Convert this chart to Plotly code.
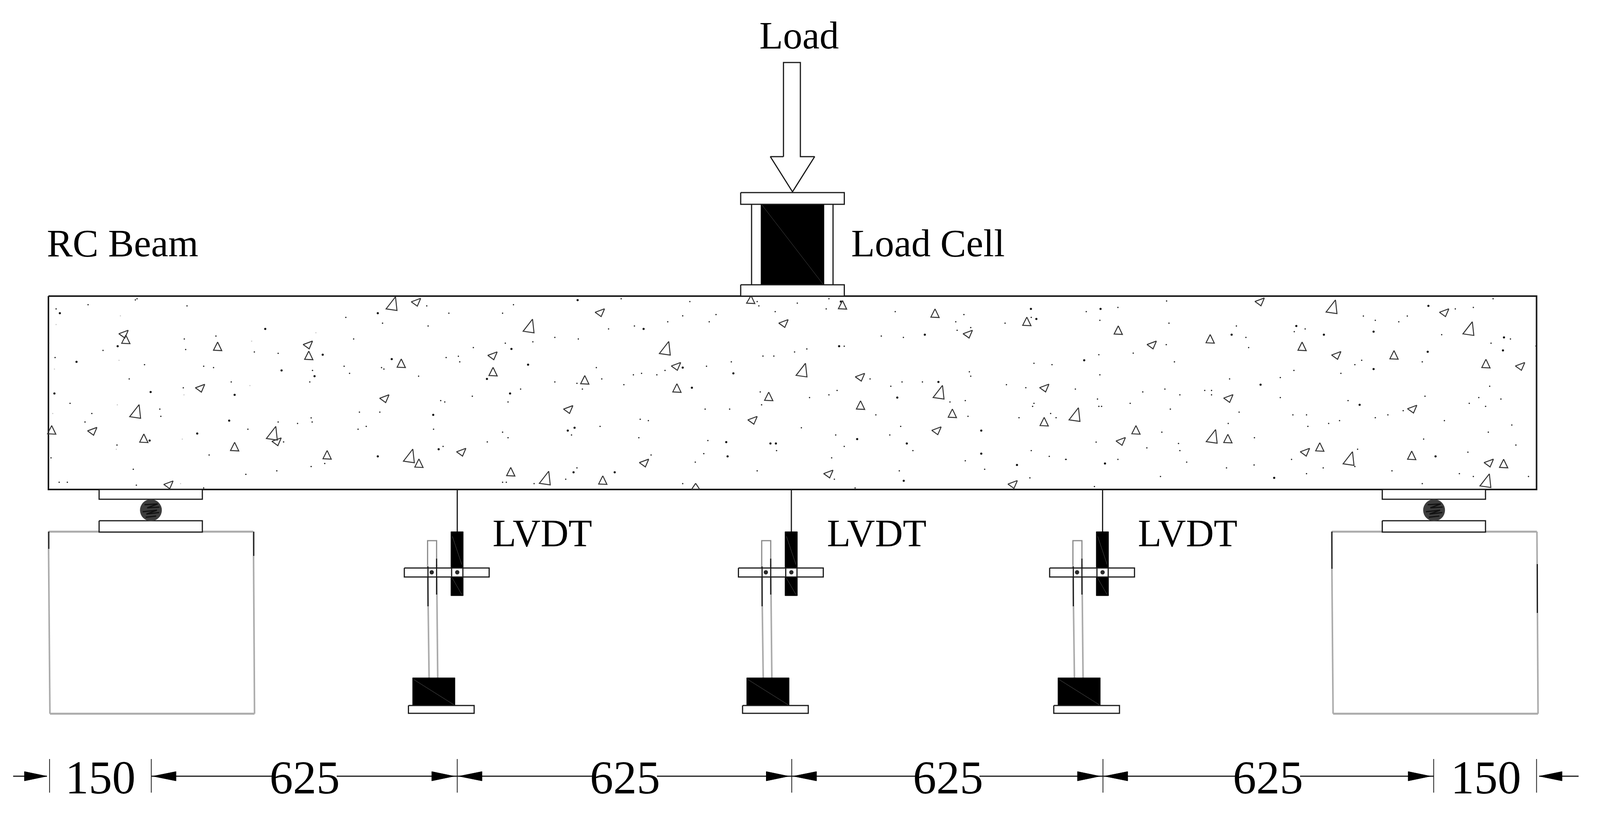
# RC beam test setup sketch
import numpy as np
import plotly.graph_objects as go

# Drawing units are picture pixels, y runs downwards
beam_x = [129, 4093]
beam_y = [758, 1253]

lvdt_shift = [0, 890, 1719]
support_shift = [0, 3418]
dim_ticks = [132, 403, 1218, 2109, 2938, 3819, 4093]
dim_labels = ["150", "625", "625", "625", "625", "150"]
dim_label_x = [267, 812, 1665, 2525, 3378, 3958]
dim_gaps = [0, 85, 85, 84, 85, 0]

text_labels = ["Load", "RC Beam", "Load Cell", "LVDT", "LVDT", "LVDT"]
text_x = [2128, 327, 2472, 1445, 2335, 3164]
text_y = [90, 622, 622, 1364, 1364, 1364]

# Aggregate and sand marks were read from three crops of the beam,
# so each list is in the units of its crop
crop_x0 = [0, 1420, 2840]
crop_sx = [1.104, 1.104, 1.1027]
crop_sy = 2.24
crop_y0 = 700

big_tri = [
    [(1152, 172), (1555, 300), (398, 790), (800, 915), (1203, 1045)],
    [(388, 428), (790, 553), (1193, 680), (35, 1172)],
    [(780, 190), (1182, 315), (25, 808), (428, 933), (830, 1060), (1232, 1187)],
]
left_tri = [
    [(1225, 165), (365, 348), (907, 410), (1450, 472), (590, 658), (1132, 718),
     (273, 905), (815, 965), (1358, 1025), (497, 1212)],
    [(198, 225), (738, 287), (1280, 348), (422, 533), (963, 595), (1505, 657),
     (105, 780), (647, 842), (1188, 902), (328, 1087), (870, 1150), (1412, 1210)],
    [(570, 163), (1112, 225), (253, 410), (795, 470), (1335, 533), (478, 717),
     (1018, 778), (162, 963), (703, 1025), (1243, 1087)],
]
small_tri = [
    [(370, 378), (640, 418), (908, 470), (1180, 515), (1450, 563), (152, 897),
     (423, 945), (690, 993), (962, 1040), (1232, 1088), (1502, 1137)],
    [(910, 180), (1182, 228), (1452, 275), (152, 610), (423, 657), (693, 705),
     (963, 755), (1233, 802), (1503, 850), (205, 1185), (640, 148), (478, 1228)],
    [(153, 325), (423, 375), (693, 418), (963, 467), (1233, 517), (205, 897),
     (475, 947), (745, 995), (1015, 1043), (1285, 1090)],
]

big_dots = [
    [(176, 228), (780, 318), (346, 417), (225, 507), (160, 688), (443, 680), (690, 696),
     (674, 844), (580, 918), (440, 958), (1111, 228), (1504, 433), (949, 466), (1152, 491),
     (1553, 523), (828, 556), (925, 589), (1432, 605), (1500, 688), (1274, 811), (1290, 1008),
     (1111, 1049)],
    [(131, 153), (905, 161), (325, 318), (1464, 203), (1480, 261), (1152, 351), (900, 417),
     (440, 540), (589, 573), (467, 655), (1192, 622), (1071, 712), (122, 885), (102, 901),
     (1318, 901), (953, 950), (568, 967), (698, 975), (714, 975), (1099, 975), (1318, 1033),
     (572, 1049), (1423, 1098), (119, 1140), (240, 1140), (1090, 1189)],
    [(101, 203), (486, 351), (53, 498), (114, 1090), (571, 638), (676, 301), (757, 351),
     (903, 334), (1064, 186), (1286, 367), (1283, 441), (1062, 449), (903, 548), (862, 753),
     (1085, 1049), (611, 1172)],
]
small_dots = [
    [(398, 152), (403, 145), (259, 179), (165, 203), (550, 186), (542, 376), (635, 359),
     (143, 400), (303, 441), (546, 436), (748, 450), (818, 458), (162, 482), (425, 523),
     (599, 532), (628, 540), (380, 605), (680, 622), (539, 656), (206, 745), (470, 778),
     (473, 819), (270, 803), (250, 852), (818, 852), (875, 860), (915, 828), (918, 852),
     (729, 893), (834, 966), (344, 984), (150, 1057), (615, 1041), (392, 1123), (814, 1132),
     (915, 1107), (955, 1090), (723, 1152), (174, 1197), (198, 1197), (401, 1214), (599, 1230),
     (1255, 186), (1510, 179), (1320, 228), (1478, 228), (1017, 252), (1125, 285), (1259, 301),
     (1040, 376), (1486, 400), (1392, 425), (1567, 392), (1312, 482), (1348, 475), (1352, 507),
     (1012, 532), (1122, 540), (1129, 548), (919, 556), (911, 622), (1028, 573), (1231, 589),
     (1531, 663), (1389, 704), (1296, 729), (1308, 737), (1494, 737), (1057, 795), (1117, 795),
     (1053, 893), (1077, 877), (1275, 893), (1478, 910), (1494, 942), (1433, 966), (1303, 992),
     (1478, 1197), (1489, 1197)],
    [(259, 145), (461, 161), (659, 161), (664, 186), (777, 170), (870, 145), (862, 203),
     (712, 219), (538, 236), (440, 243), (396, 277), (518, 277), (298, 301), (222, 318),
     (64, 367), (133, 376), (1065, 219), (1267, 236), (1243, 277), (1388, 285), (1465, 252),
     (1287, 310), (1247, 326), (1024, 359), (1089, 367), (915, 417), (805, 433), (769, 450),
     (676, 474), (708, 474), (583, 507), (510, 532), (186, 540), (388, 556), (319, 573),
     (295, 581), (364, 581), (1473, 515), (1526, 523), (1283, 564), (1287, 589), (991, 605),
     (202, 605), (64, 622), (129, 630), (267, 638), (145, 663), (1085, 622), (1145, 622),
     (1052, 647), (1392, 638), (1449, 655), (668, 679), (894, 671), (870, 696), (813, 712),
     (1226, 737), (1271, 729), (1473, 745), (1469, 762), (672, 753), (506, 778), (578, 778),
     (1008, 811), (1279, 819), (1522, 803), (1538, 827), (1429, 827), (315, 836), (339, 844),
     (197, 877), (113, 926), (789, 885), (1081, 877), (890, 926), (1049, 926), (311, 942),
     (514, 958), (915, 992), (716, 1016), (1117, 1016), (1465, 1016), (502, 1033), (347, 1041),
     (1518, 1049), (1566, 1066), (878, 1057), (477, 1082), (1271, 1074), (129, 1115),
     (659, 1132), (1077, 1132), (1328, 1123), (1461, 1172), (96, 1180), (886, 1180),
     (440, 1205), (3, 1205), (947, 1230)],
    [(295, 158), (152, 195), (59, 219), (99, 269), (302, 285), (500, 301), (528, 367),
     (536, 425), (294, 408), (197, 457), (96, 466), (318, 507), (99, 581), (480, 605),
     (27, 663), (225, 679), (290, 663), (334, 696), (407, 671), (427, 671), (427, 696),
     (92, 720), (188, 745), (96, 762), (104, 762), (306, 778), (508, 795), (476, 860),
     (281, 910), (88, 967), (330, 975), (237, 1000), (334, 1016), (152, 1066), (0, 1066),
     (354, 1082), (471, 1115), (552, 1098), (553, 942), (277, 1164), (83, 1222), (629, 597),
     (669, 556), (629, 712), (666, 811), (706, 811), (710, 877), (771, 860), (803, 844),
     (702, 318), (670, 334), (873, 244), (908, 269), (977, 277), (1002, 244), (1143, 203),
     (1196, 195), (1254, 145), (1103, 351), (1305, 376), (1248, 400), (1380, 416), (1046, 507),
     (868, 498), (848, 523), (807, 573), (1244, 647), (1054, 704), (1212, 712), (1277, 720),
     (1184, 745), (1232, 762), (828, 729), (990, 787), (945, 811), (908, 827), (1111, 844),
     (1309, 869), (1240, 910), (1050, 950), (1321, 984), (1180, 1025), (856, 1008), (662, 1066),
     (848, 1107), (755, 1115), (706, 1148), (957, 1132), (1155, 1148), (1196, 1164),
     (1358, 1164), (1046, 1205)],
]
faint_dots = [
    [(354, 243), (165, 293), (929, 340), (740, 388), (350, 498), (160, 548), (735, 643),
     (541, 696), (345, 753), (155, 803), (536, 950), (342, 1008), (531, 1205)],
    [],
    [],
]

# triangle outlines around their centre
big_shape = [(10, -17), (-15, 14), (14, 18)]
left_shape = [(11, -10), (-14, -1), (2, 10)]
small_shape = [(0, -11), (-11, 10), (11, 11)]

INK = "#1a1a1a"
GREY = "#ababab"


def to_pic(points, crop):
    x = [crop_x0[crop] + p[0] / crop_sx[crop] for p in points]
    y = [crop_y0 + p[1] / crop_sy for p in points]
    return x, y


def add_line(fig, x, y, color=INK, width=3):
    fig.add_trace(go.Scatter(x=x, y=y, mode="lines", line=dict(color=color, width=width),
                             hoverinfo="skip"))


def add_box(fig, x0, x1, y0, y1, fill="white", color=INK, width=3):
    fig.add_trace(go.Scatter(x=[x0, x1, x1, x0, x0], y=[y0, y0, y1, y1, y0], mode="lines",
                             fill="toself", fillcolor=fill,
                             line=dict(color=color, width=width), hoverinfo="skip"))


def add_dots(fig, lists, size, color):
    for crop, points in enumerate(lists):
        x, y = to_pic(points, crop)
        fig.add_trace(go.Scatter(x=x, y=y, mode="markers", hoverinfo="skip",
                                 marker=dict(size=size, color=color, line=dict(width=0))))


def add_triangles(fig, lists, shape):
    xs, ys = [], []
    for crop, points in enumerate(lists):
        x, y = to_pic(points, crop)
        for cx, cy in zip(x, y):
            xs += [cx + s[0] for s in shape] + [cx + shape[0][0], None]
            ys += [min(max(cy + s[1], beam_y[0]), beam_y[1]) for s in shape] + [cy + shape[0][1], None]
    add_line(fig, xs, ys, color="#333333", width=2.5)


def add_support(fig, dx, left, right, left_black, right_black):
    # concrete block, mostly grey scan with black stretches on the sides
    add_line(fig, [left, right], [1361, 1361], GREY, 5)
    add_line(fig, [left + 4, right + 3], [1827, 1827], GREY, 5)
    add_line(fig, [left, left + 4], [1361, 1827], GREY, 4)
    add_line(fig, [right, right + 3], [1361, 1827], GREY, 4)
    add_line(fig, [left + 1, left + 1], left_black, INK, 3)
    add_line(fig, [right + 1, right + 1], right_black, INK, 3)
    # plates and roller
    add_box(fig, 264 + dx, 539 + dx, 1253, 1278)
    add_box(fig, 264 + dx, 539 + dx, 1333, 1362)
    fig.add_trace(go.Scatter(x=[402 + dx], y=[1306], mode="markers", hoverinfo="skip",
                             marker=dict(size=56, color="#3d3d3d", line=dict(width=0))))
    add_line(fig, [385 + dx, 420 + dx, 392 + dx, 425 + dx], [1292, 1290, 1300, 1298], "#111111", 3)
    add_line(fig, [380 + dx, 418 + dx, 390 + dx, 424 + dx], [1310, 1306, 1316, 1312], "#111111", 3)
    add_line(fig, [388 + dx, 416 + dx], [1324, 1321], "#111111", 3)


def add_lvdt(fig, dx):
    # stand post
    add_line(fig, [1139 + dx, 1139 + dx, 1163 + dx, 1163 + dx], [1445, 1384, 1384, 1445], "#8a8a8a", 3)
    add_line(fig, [1139 + dx, 1143 + dx], [1445, 1735], GREY, 4)
    add_line(fig, [1163 + dx, 1166 + dx], [1445, 1735], GREY, 4)
    add_line(fig, [1140 + dx, 1140 + dx], [1450, 1552], INK, 3)
    add_line(fig, [1163 + dx, 1163 + dx], [1430, 1522], INK, 3)
    # rod and transducer body
    add_line(fig, [1218 + dx, 1218 + dx], [1253, 1361], INK, 3)
    add_box(fig, 1201 + dx, 1234 + dx, 1361, 1525, fill="black", color="black", width=1)
    add_line(fig, [1205 + dx, 1230 + dx], [1373, 1445], "#555555", 1)
    add_line(fig, [1205 + dx, 1230 + dx], [1480, 1522], "#555555", 1)
    # clamp arm
    add_box(fig, 1077 + dx, 1303 + dx, 1454, 1477)
    add_line(fig, [1140 + dx, 1140 + dx], [1454, 1477], INK, 3)
    add_line(fig, [1163 + dx, 1163 + dx], [1454, 1477], INK, 3)
    add_line(fig, [1203 + dx, 1203 + dx], [1454, 1477], INK, 3)
    add_line(fig, [1233 + dx, 1233 + dx], [1454, 1477], INK, 3)
    fig.add_trace(go.Scatter(x=[1150 + dx, 1218 + dx], y=[1465, 1465], mode="markers", hoverinfo="skip",
                             marker=dict(size=11, color="#2a2a2a", line=dict(width=0))))
    # magnetic base
    add_box(fig, 1099 + dx, 1212 + dx, 1735, 1806, fill="black", color="black", width=1)
    add_line(fig, [1103 + dx, 1209 + dx], [1740, 1804], "#555555", 1)
    add_box(fig, 1088 + dx, 1263 + dx, 1806, 1826)


fig = go.Figure()

# beam and its aggregate
add_box(fig, beam_x[0], beam_x[1], beam_y[0], beam_y[1], width=4)
add_dots(fig, faint_dots, 3, "#c4c4c4")
add_dots(fig, small_dots, 3.5, "#222222")
add_dots(fig, big_dots, 5.5, "#111111")
add_triangles(fig, big_tri, big_shape)
add_triangles(fig, left_tri, left_shape)
add_triangles(fig, small_tri, small_shape)

# supports
add_support(fig, support_shift[0], 129, 675, [1361, 1405], [1361, 1423])
add_support(fig, support_shift[1], 3547, 4094, [1361, 1456], [1444, 1569])

for shift in lvdt_shift:
    add_lvdt(fig, shift)

# load cell and load arrow
add_line(fig, [2002, 2002], [523, 729], INK, 3)
add_line(fig, [2219, 2219], [523, 729], INK, 3)
add_box(fig, 2027, 2195, 523, 729, fill="black", color="black", width=1)
add_line(fig, [2030, 2192], [525, 727], "#4a4a4a", 1)
add_box(fig, 1973, 2249, 493, 523)
add_box(fig, 1973, 2249, 729, 758)
add_line(fig, [2087, 2087, 2132, 2132, 2170, 2111, 2052, 2087], [401, 160, 160, 401, 401, 491, 401, 401], INK, 3)

# dimension line
DIM_Y = 1987
for tick in dim_ticks:
    add_line(fig, [tick, tick], [1943, 2029], INK, 2)
for i, lab_x in enumerate(dim_label_x):
    if dim_labels[i] == "625":
        add_line(fig, [dim_ticks[i], lab_x - dim_gaps[i]], [DIM_Y, DIM_Y], INK, 3)
        add_line(fig, [lab_x + dim_gaps[i], dim_ticks[i + 1]], [DIM_Y, DIM_Y], INK, 3)
add_line(fig, [35, 125], [DIM_Y, DIM_Y], INK, 3)
add_line(fig, [4100, 4205], [DIM_Y, DIM_Y], INK, 3)


def add_head(fig, tip, tail):
    fig.add_trace(go.Scatter(x=[tip, tail, tail, tip], y=[DIM_Y, DIM_Y - 12, DIM_Y + 12, DIM_Y],
                             mode="lines", fill="toself", fillcolor="black",
                             line=dict(color="black", width=1), hoverinfo="skip"))


add_head(fig, 125, 65)
add_head(fig, 4100, 4161)
for tick in dim_ticks[1:5]:
    add_head(fig, tick + 4, tick + 66)
for tick in dim_ticks[2:6]:
    add_head(fig, tick - 8, tick - 68)

for lab, x in zip(dim_labels, dim_label_x):
    fig.add_annotation(x=x, y=1990, text=lab, showarrow=False, xanchor="center", yanchor="middle",
                       font=dict(family="Liberation Serif", size=120, color="black"))
for lab, x, y in zip(text_labels, text_x, text_y):
    fig.add_annotation(x=x, y=y, text=lab, showarrow=False, xanchor="center", yanchor="middle",
                       font=dict(family="Liberation Serif", size=99, color="black"))

fig.update_layout(width=4262, height=2117, margin=dict(l=0, r=0, t=0, b=0),
                  paper_bgcolor="white", plot_bgcolor="white", showlegend=False)
fig.update_xaxes(range=[0, 4262], visible=False)
fig.update_yaxes(range=[2117, 0], visible=False)

# the browser window can come out narrower than asked, so fit the figure to it
fit_js = ("document.body.style.margin = '0';"
          "Plotly.relayout('{plot_id}', {width: window.innerWidth, height: window.innerHeight});")
fig.write_html("out.html", config={"displayModeBar": False}, post_script=fit_js)
